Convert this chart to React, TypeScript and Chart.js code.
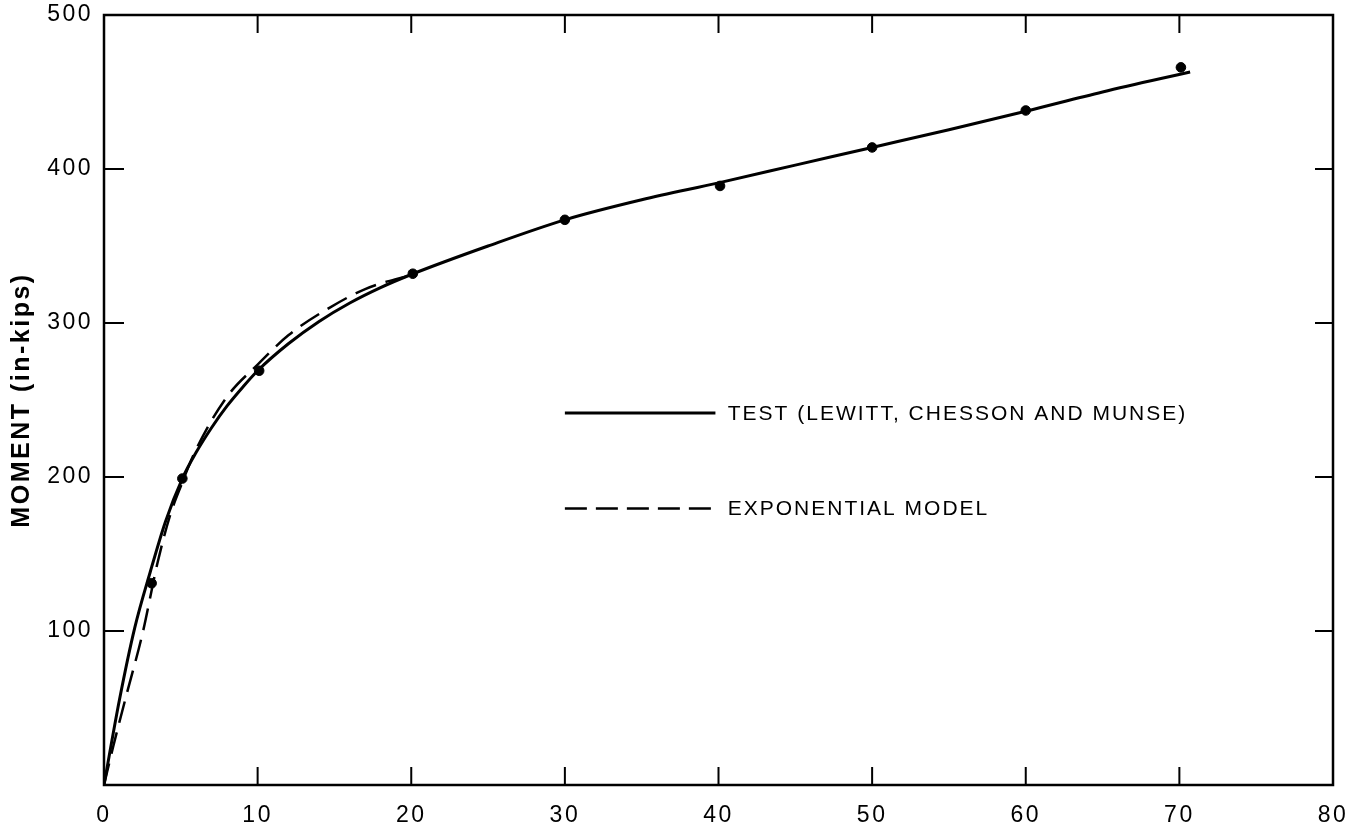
import React, { useEffect, useRef } from 'react';
import { Chart, registerables } from 'chart.js';

Chart.register(...registerables);

// Test curve (Lewitt, Chesson and Munse)
const testX = [0, 1, 2, 3, 4, 5.1, 6, 7, 8, 9, 10, 12, 14, 16, 18, 20, 25, 30, 35, 40, 45, 50, 55, 60, 65, 70.7];
const testY = [0, 55, 102, 138, 171, 199, 216, 232, 246, 258, 269, 286.5, 301, 313, 323, 331.5, 350, 367, 380, 391, 402.5, 414, 425.5, 437.5, 450, 463];

// Exponential model curve
const expX = [0, 0.6, 1.5, 2.5, 3.5, 4.3, 5, 6, 8, 10, 12, 14.7, 17, 19, 20.1];
const expY = [0, 25, 60, 98, 145, 175, 194, 218, 252, 273, 292, 310, 322, 328.5, 331];

// Measured test points
const ptX = [3.1, 5.1, 10.1, 20.1, 30, 40.1, 50, 60, 70.1];
const ptY = [131, 199, 269, 332, 367, 389, 414, 438, 466];

// Axis ticks
const xTickValues = [0, 10, 20, 30, 40, 50, 60, 70, 80];
const yTickValues = [0, 100, 200, 300, 400, 500];

const yTitle = 'MOMENT (in-kips)';
const legendLabels = ['TEST (LEWITT, CHESSON AND MUNSE)', 'EXPONENTIAL MODEL'];

// legend placement (data coordinates)
const LEG_X0 = 30.0;
const LEG_X1 = 39.8;
const LEG_TX = 40.6;
const LEG_Y = [241.5, 179.5];

const FONT = "'Liberation Sans', Arial, sans-serif";

const framePlugin = {
  id: 'frame',
  beforeDraw(chart: any) {
    chart.ctx.letterSpacing = '2.5px';
  },
  afterDraw(chart: any) {
    const { ctx, chartArea, scales } = chart;
    const { left, right, top, bottom } = chartArea;
    const xs = scales.x;
    const ys = scales.y;
    ctx.save();
    ctx.letterSpacing = '0px';
    ctx.strokeStyle = '#000';
    ctx.lineWidth = 2.5;
    ctx.setLineDash([]);
    ctx.strokeRect(left, top, right - left, bottom - top);

    ctx.lineWidth = 2;
    const tl = 18;
    xTickValues.forEach((v) => {
      if (v === xTickValues[0] || v === xTickValues[xTickValues.length - 1]) return;
      const px = xs.getPixelForValue(v);
      ctx.beginPath();
      ctx.moveTo(px, bottom);
      ctx.lineTo(px, bottom - tl);
      ctx.moveTo(px, top);
      ctx.lineTo(px, top + tl);
      ctx.stroke();
    });
    yTickValues.forEach((v) => {
      if (v === yTickValues[0] || v === yTickValues[yTickValues.length - 1]) return;
      const py = ys.getPixelForValue(v);
      ctx.beginPath();
      ctx.moveTo(left, py);
      ctx.lineTo(left + tl + 2, py);
      ctx.moveTo(right, py);
      ctx.lineTo(right - tl, py);
      ctx.stroke();
    });

    // legend
    const x0 = xs.getPixelForValue(LEG_X0);
    const x1 = xs.getPixelForValue(LEG_X1);
    const tx = xs.getPixelForValue(LEG_TX);
    ctx.font = `21px ${FONT}`;
    ctx.fillStyle = '#000';
    ctx.textBaseline = 'middle';
    ctx.textAlign = 'left';
    (ctx as any).letterSpacing = '2px';
    legendLabels.forEach((label, i) => {
      const py = ys.getPixelForValue(LEG_Y[i]);
      ctx.beginPath();
      ctx.lineWidth = i === 0 ? 3 : 2.5;
      ctx.setLineDash(i === 0 ? [] : [22, 9]);
      ctx.moveTo(x0, py);
      ctx.lineTo(x1, py);
      ctx.stroke();
      ctx.fillText(label, tx, py + 1);
    });
    ctx.restore();
  },
};

export default function App() {
  const ref = useRef<HTMLCanvasElement | null>(null);

  useEffect(() => {
    document.body.style.margin = '0';
    const canvas = ref.current;
    if (!canvas) return;

    const chart = new Chart(canvas, {
      type: 'scatter',
      data: {
        datasets: [
          {
            label: legendLabels[0],
            data: testX.map((x, i) => ({ x, y: testY[i] })),
            showLine: true,
            borderColor: '#000',
            borderWidth: 3,
            pointRadius: 0,
            cubicInterpolationMode: 'monotone',
          },
          {
            label: legendLabels[1],
            data: expX.map((x, i) => ({ x, y: expY[i] })),
            showLine: true,
            borderColor: '#000',
            borderWidth: 2.5,
            borderDash: [22, 10],
            pointRadius: 0,
            cubicInterpolationMode: 'monotone',
          },
          {
            label: 'points',
            data: ptX.map((x, i) => ({ x, y: ptY[i] })),
            showLine: false,
            backgroundColor: '#000',
            borderColor: '#000',
            pointRadius: 4.8,
            pointHoverRadius: 4.8,
          },
        ],
      },
      options: {
        responsive: false,
        animation: false,
        events: [],
        layout: { padding: { top: 15, right: 16, left: 0, bottom: 0 } },
        plugins: {
          legend: { display: false },
          tooltip: { enabled: false },
        },
        scales: {
          x: {
            type: 'linear',
            min: 0,
            max: 80,
            afterBuildTicks: (s: any) => {
              s.ticks = xTickValues.map((v) => ({ value: v }));
            },
            afterFit: (s: any) => {
              s.height = 42;
              s.paddingLeft = 0;
              s.paddingRight = 0;
            },
            grid: { display: false, drawTicks: false },
            border: { display: false },
            ticks: {
              autoSkip: false,
              maxRotation: 0,
              padding: 17,
              color: '#000',
              font: { family: FONT, size: 23 },
            },
          },
          y: {
            type: 'linear',
            min: 0,
            max: 500,
            afterBuildTicks: (s: any) => {
              s.ticks = yTickValues.map((v) => ({ value: v }));
            },
            afterFit: (s: any) => {
              s.width = 104;
              s.paddingTop = 0;
              s.paddingBottom = 0;
            },
            grid: { display: false, drawTicks: false },
            border: { display: false },
            ticks: {
              autoSkip: false,
              padding: 11,
              color: '#000',
              font: { family: FONT, size: 23 },
              callback: (v: any) => (v === 0 ? '' : String(v)),
            },
            title: {
              display: true,
              text: yTitle,
              color: '#000',
              font: { family: FONT, size: 25, weight: 'bold' },
              padding: { top: 7, bottom: 0 },
            },
          },
        },
      },
      plugins: [framePlugin],
    });

    return () => chart.destroy();
  }, []);

  return (
    <canvas
      ref={ref}
      width={1349}
      height={827}
      style={{ display: 'block', width: 1349, height: 827 }}
    />
  );
}
